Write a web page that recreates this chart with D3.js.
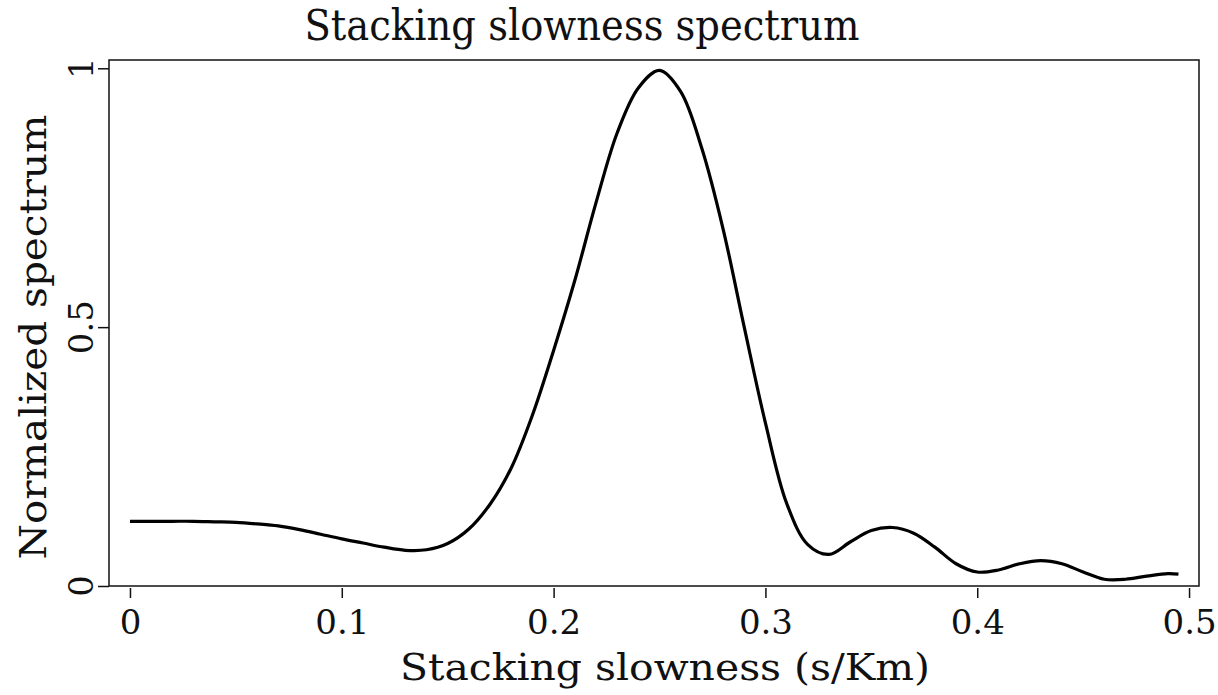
<!DOCTYPE html>
<html lang="en">
<head>
  <meta charset="utf-8">
  <title>Stacking slowness spectrum</title>
  <script src="https://d3js.org/d3.v7.min.js"></script>
  <style>
    body { margin: 0; background: #fff; }
    text { font-family: "DejaVu Serif", "Liberation Serif", serif; fill: #111; }
  </style>
</head>
<body>
<div id="chart"></div>
<script>
  // slowness (s/km)
  var slowness = [0, 0.01, 0.02, 0.03, 0.04, 0.05, 0.06, 0.07, 0.08, 0.09,
    0.10, 0.11, 0.12, 0.13, 0.14, 0.15, 0.16, 0.17, 0.18, 0.19,
    0.20, 0.21, 0.22, 0.23, 0.24, 0.25, 0.26, 0.27, 0.28, 0.29,
    0.30, 0.31, 0.32, 0.33, 0.34, 0.35, 0.36, 0.37, 0.38, 0.39,
    0.40, 0.41, 0.42, 0.43, 0.44, 0.45, 0.46, 0.47, 0.48, 0.49, 0.495];
  // normalized spectrum at each slowness
  var spectrum = [0.125, 0.125, 0.125, 0.125, 0.124, 0.123, 0.120, 0.116, 0.109, 0.100,
    0.091, 0.083, 0.075, 0.069, 0.070, 0.082, 0.110, 0.158, 0.228, 0.330,
    0.455, 0.590, 0.740, 0.875, 0.962, 0.996, 0.955, 0.845, 0.690, 0.500,
    0.315, 0.160, 0.080, 0.061, 0.085, 0.107, 0.113, 0.102, 0.075, 0.043,
    0.027, 0.031, 0.043, 0.049, 0.043, 0.027, 0.013, 0.013, 0.019, 0.024, 0.023];
  var xTicks = [0, 0.1, 0.2, 0.3, 0.4, 0.5];
  var xTickLabels = ["0", "0.1", "0.2", "0.3", "0.4", "0.5"];
  var yTicks = [0, 0.5, 1];
  var yTickLabels = ["0", "0.5", "1"];

  var W = 1218, H = 695;
  var frame = {left: 109, right: 1199, top: 60, bottom: 586};

  var svg = d3.select("#chart").append("svg")
      .attr("width", W).attr("height", H);

  var x = d3.scaleLinear().domain([-0.0099, 0.5047]).range([frame.left, frame.right]);
  var y = d3.scaleLinear().domain([0, 1.016]).range([frame.bottom, frame.top]);

  // frame
  svg.append("rect")
      .attr("x", frame.left).attr("y", frame.top)
      .attr("width", frame.right - frame.left).attr("height", frame.bottom - frame.top)
      .attr("fill", "none").attr("stroke", "#111").attr("stroke-width", 1.5);

  // x axis ticks hang just below the frame
  var xAxis = svg.append("g")
      .attr("transform", "translate(0," + (frame.bottom + 2) + ")")
      .call(d3.axisBottom(x).tickValues(xTicks).tickSize(10).tickPadding(12)
        .tickFormat(function(d, i) { return xTickLabels[i]; }));
  xAxis.select(".domain").remove();
  xAxis.selectAll("line").attr("stroke", "#111").attr("stroke-width", 1.5);
  xAxis.selectAll("text").attr("font-size", 34).attr("fill", "#111")
      .attr("font-family", "DejaVu Serif");

  // y axis ticks, labels turned sideways
  var yAxis = svg.append("g")
      .attr("transform", "translate(" + frame.left + ",0)")
      .call(d3.axisLeft(y).tickValues(yTicks).tickSize(11).tickFormat(""));
  yAxis.select(".domain").remove();
  yAxis.selectAll("line").attr("stroke", "#111").attr("stroke-width", 1.5);

  svg.selectAll(".ylab").data(yTicks).enter().append("text")
      .attr("class", "ylab")
      .attr("transform", function(d) { return "translate(93," + y(d) + ") rotate(-90)"; })
      .attr("text-anchor", "middle")
      .attr("font-size", 34)
      .text(function(d, i) { return yTickLabels[i]; });

  // spectrum curve
  var pts = slowness.map(function(s, i) { return [s, spectrum[i]]; });
  svg.append("path")
      .datum(pts)
      .attr("fill", "none")
      .attr("stroke", "#000")
      .attr("stroke-width", 3.2)
      .attr("stroke-linejoin", "round")
      .attr("d", d3.line()
        .x(function(d) { return x(d[0]); })
        .y(function(d) { return y(d[1]); })
        .curve(d3.curveCatmullRom.alpha(0.5)));

  // titles
  svg.append("text")
      .attr("x", 582).attr("y", 40)
      .attr("text-anchor", "middle")
      .attr("font-size", 42)
      .attr("textLength", 555).attr("lengthAdjust", "spacingAndGlyphs")
      .text("Stacking slowness spectrum");

  svg.append("text")
      .attr("x", 665).attr("y", 680)
      .attr("text-anchor", "middle")
      .attr("font-size", 38)
      .attr("textLength", 530).attr("lengthAdjust", "spacingAndGlyphs")
      .text("Stacking slowness (s/Km)");

  svg.append("text")
      .attr("transform", "translate(46,337) rotate(-90)")
      .attr("text-anchor", "middle")
      .attr("font-size", 38)
      .attr("textLength", 445).attr("lengthAdjust", "spacingAndGlyphs")
      .text("Normalized spectrum");
</script>
</body>
</html>
